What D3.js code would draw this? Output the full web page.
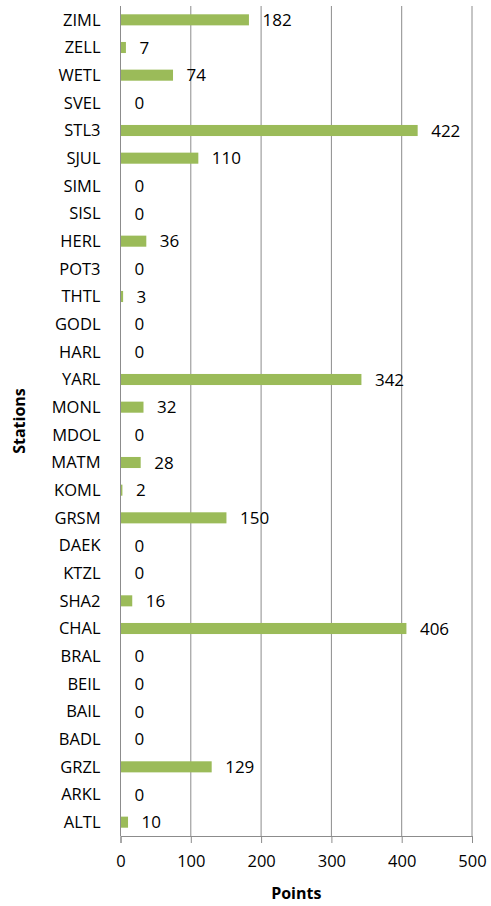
<!DOCTYPE html>
<meta charset="utf-8">
<html>
<head>
<title>Points per station</title>
<script src="https://d3js.org/d3.v7.min.js"></script>
</head>
<style>
  body {margin: 0; background: #fff; font-family: "Open Sans", sans-serif;}
  .cat {font: 16.5px "Open Sans"; fill: #000;}
  .tick text {font: 16.5px "Open Sans"; fill: #000;}
  .val {font: 17px "Open Sans"; fill: #000;}
  .title {font: bold 16px "Open Sans"; fill: #000;}
  .grid line {stroke: #8c8c8c; stroke-width: 1px;}
</style>
<body>
<svg id="chart" width="491" height="906"></svg>
<script>
// stations, top to bottom as drawn
var stations = ["ZIML","ZELL","WETL","SVEL","STL3","SJUL","SIML","SISL","HERL","POT3",
                "THTL","GODL","HARL","YARL","MONL","MDOL","MATM","KOML","GRSM","DAEK",
                "KTZL","SHA2","CHAL","BRAL","BEIL","BAIL","BADL","GRZL","ARKL","ALTL"];
var points = [182,7,74,0,422,110,0,0,36,0,
              3,0,0,342,32,0,28,2,150,0,
              0,16,406,0,0,0,0,129,0,10];
var xTicks = [0,100,200,300,400,500];

var svg = d3.select("#chart"),
    margin = {top: 6, right: 19, bottom: 70, left: 120.5},
    width = +svg.attr("width") - margin.left - margin.right,
    height = +svg.attr("height") - margin.top - margin.bottom;

var x = d3.scaleLinear().domain([0, 500]).range([0, width]);
var y = d3.scaleBand().domain(stations).range([0, height]).paddingInner(0.6).paddingOuter(0.3);

var g = svg.append("g").attr("transform", "translate(" + margin.left + "," + margin.top + ")");

// vertical gridlines
g.append("g").attr("class", "grid")
  .selectAll("line").data(xTicks).enter().append("line")
  .attr("x1", function(d) { return x(d); }).attr("x2", function(d) { return x(d); })
  .attr("y1", 0).attr("y2", height);

// x axis
var xAxis = g.append("g")
  .attr("transform", "translate(0," + height + ")")
  .call(d3.axisBottom(x).tickValues(xTicks).tickSize(7).tickPadding(12));
xAxis.select(".domain").attr("stroke", "#8c8c8c");
xAxis.selectAll(".tick line").attr("stroke", "#8c8c8c");

// bars
g.selectAll(".bar").data(points).enter().append("rect")
  .attr("class", "bar")
  .attr("x", 0.5)
  .attr("y", function(d, i) { return y(stations[i]); })
  .attr("width", function(d) { return x(d); })
  .attr("height", y.bandwidth())
  .attr("fill", "#9bbb59");

// value labels
g.selectAll(".val").data(points).enter().append("text")
  .attr("class", "val")
  .attr("x", function(d) { return x(d) + 14; })
  .attr("y", function(d, i) { return y(stations[i]) + y.bandwidth() / 2; })
  .attr("dy", "0.36em")
  .text(function(d) { return d; });

// category labels
g.selectAll(".cat").data(stations).enter().append("text")
  .attr("class", "cat")
  .attr("x", -20)
  .attr("y", function(d) { return y(d) + y.bandwidth() / 2; })
  .attr("dy", "0.36em")
  .attr("text-anchor", "end")
  .text(function(d) { return d; });

// axis titles
svg.append("text").attr("class", "title")
  .attr("x", margin.left + width / 2).attr("y", 899)
  .attr("text-anchor", "middle").text("Points");

svg.append("text").attr("class", "title")
  .attr("transform", "translate(25," + (margin.top + height / 2) + ") rotate(-90)")
  .attr("text-anchor", "middle").text("Stations");
</script>
</body>
</html>
